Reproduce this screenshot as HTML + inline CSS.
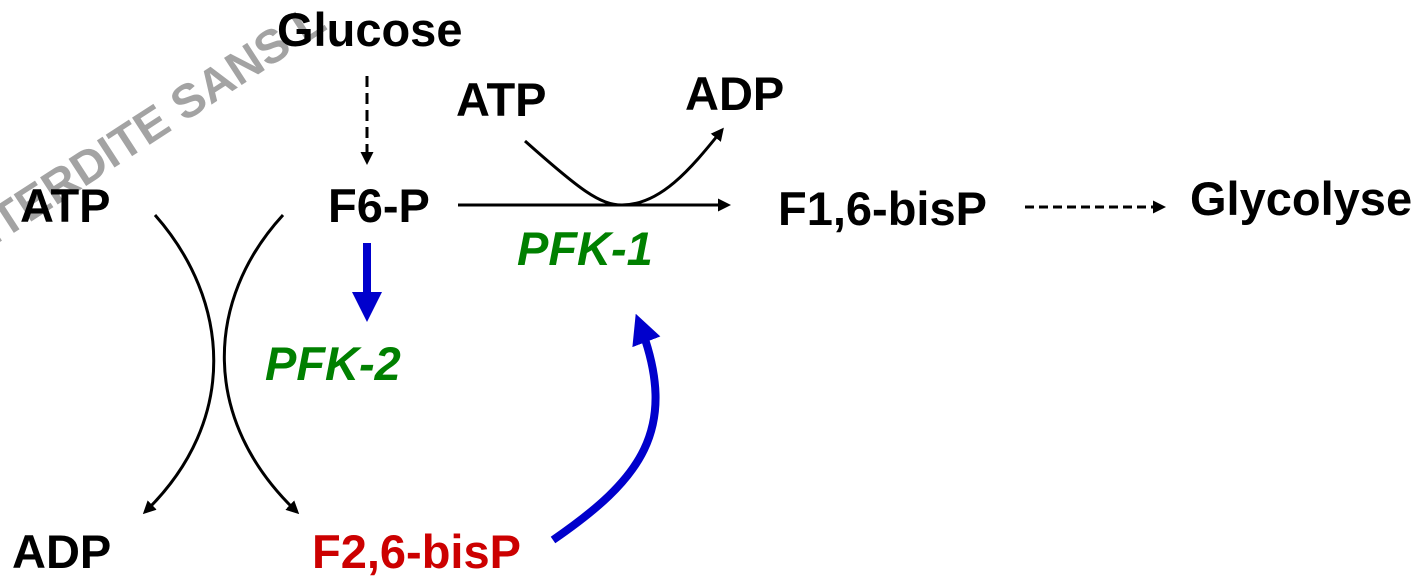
<!DOCTYPE html>
<html><head><meta charset="utf-8"><style>
html,body{margin:0;padding:0;background:#fff;width:1421px;height:580px;overflow:hidden}
svg{display:block}
text{font-family:"Liberation Sans",Arial,sans-serif;font-weight:bold;font-size:47px}
</style></head><body>
<svg width="1421" height="580" viewBox="0 0 1421 580">
<defs>
<marker id="ah" markerWidth="13" markerHeight="13" refX="10" refY="6.5" orient="auto" markerUnits="userSpaceOnUse" viewBox="0 0 13 13"><path d="M0,0 L13,6.5 L0,13 z" fill="#000"/></marker>
<marker id="bh" viewBox="0 0 10 10" refX="6" refY="5" markerWidth="30" markerHeight="30" orient="auto" markerUnits="userSpaceOnUse"><path d="M0,0 L10,5 L0,10 z" fill="#0000cc"/></marker>
</defs>
<text x="-48" y="240" fill="#a3a3a3" transform="rotate(-33 0 230)">INTERDITE SANS L</text>
<text x="277" y="46">Glucose</text>
<text x="456" y="116">ATP</text>
<text x="685" y="110">ADP</text>
<text x="20" y="222">ATP</text>
<text x="328" y="222">F6-P</text>
<text x="778" y="225">F1,6-bisP</text>
<text x="1190" y="215">Glycolyse</text>
<text x="517" y="265" fill="#008000" font-style="italic">PFK-1</text>
<text x="265" y="380" fill="#008000" font-style="italic">PFK-2</text>
<text x="12" y="568">ADP</text>
<text x="312" y="568" fill="#cc0000">F2,6-bisP</text>
<g stroke="#000" stroke-width="3" fill="none">
<line x1="367" y1="76" x2="367" y2="162" stroke-dasharray="11,6" marker-end="url(#ah)"/>
<line x1="458" y1="205" x2="728" y2="205" marker-end="url(#ah)"/>
<path d="M525,141 C580,190 600,205 622,205 C660,205 690,170 722,130" marker-end="url(#ah)"/>
<line x1="1025" y1="207" x2="1163" y2="207" stroke-dasharray="9,5" marker-end="url(#ah)"/>
<path d="M155,215 C230,300 240,420 145,512" marker-end="url(#ah)"/>
<path d="M283,215 C205,300 200,420 297,512" marker-end="url(#ah)"/>
</g>
<line x1="367" y1="243" x2="367" y2="310" stroke="#0000cc" stroke-width="8" marker-end="url(#bh)"/>
<path d="M553,540 C640,480 680,430 640,325" stroke="#0000cc" stroke-width="8" fill="none" marker-end="url(#bh)"/>
</svg>
</body></html>
